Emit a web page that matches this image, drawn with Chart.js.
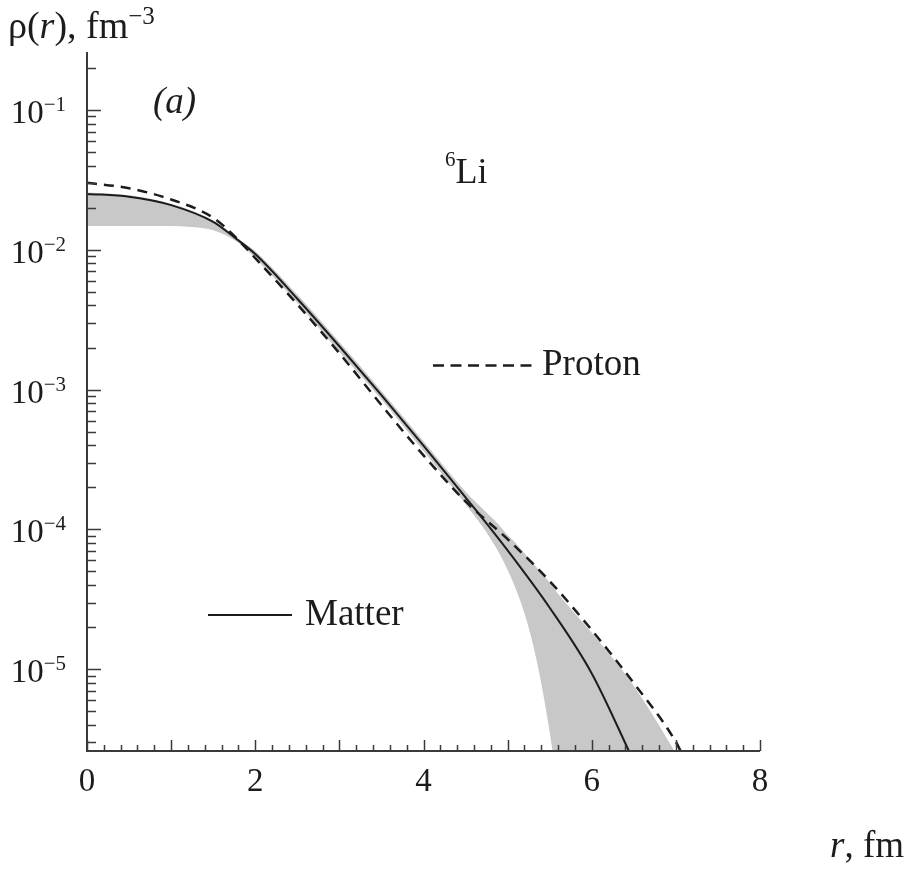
<!DOCTYPE html>
<html>
<head>
<meta charset="utf-8">
<script src="https://cdn.jsdelivr.net/npm/chart.js@4.4.1/dist/chart.umd.min.js"></script>
<style>
  html, body { margin: 0; padding: 0; background: #fff; }
  canvas { display: block; }
</style>
</head>
<body>
<canvas id="densityChart" width="917" height="869"></canvas>
<script>
// 6Li density profiles: r in fm, rho in fm^-3
const rMatter = [0, 0.5, 1.0, 1.5, 1.75, 2.0, 2.5, 3.0, 3.5, 4.0, 4.5, 5.0, 5.5, 6.0, 6.5];
const rhoMatter = [0.02512, 0.02399, 0.02089, 0.01585, 0.01230, 0.009333, 0.004467, 0.002042,
  0.0009120, 0.0003981, 0.0001698, 0.00007079, 0.00002754, 0.000009333, 0.000002188];

const rProton = [0, 0.5, 1.0, 1.5, 1.75, 2.0, 2.5, 3.0, 3.5, 4.0, 4.5, 5.0, 5.5, 6.0, 6.5, 7.0, 7.1];
const rhoProton = [0.03020, 0.02754, 0.02291, 0.01698, 0.01259, 0.008710, 0.004074, 0.001820,
  0.0007762, 0.0003388, 0.0001585, 0.00008511, 0.00004266, 0.00001905, 0.000007943,
  0.00000302, 0.000002291];

// uncertainty corridor of the matter density
const rBand = [0, 0.5, 1.0, 1.2, 1.5, 1.8, 2.0, 2.5, 3.0, 3.5, 4.0, 4.5, 4.7, 4.8, 4.9, 5.0,
  5.1, 5.2, 5.3, 5.4, 5.5, 5.6, 6.0, 6.5, 7.0, 7.2];
const rhoBandLow = [0.01479, 0.01479, 0.01479, 0.01462, 0.01380, 0.01122, 0.008710, 0.004169,
  0.001862, 0.0008511, 0.0003631, 0.0001514, 0.0001047, 0.00008511, 0.00006761, 0.00005129,
  0.00003715, 0.00002512, 0.00001514, 0.000007943, 0.000003548, 0.000001413, 1e-7, 1e-7, 1e-7, 1e-7];
const rhoBandHigh = [0.02570, 0.02455, 0.02138, 0.01950, 0.01622, 0.01202, 0.009772, 0.004786,
  0.002188, 0.0009772, 0.0004266, 0.0001862, 0.0001413, 0.0001230, 0.0001072, 0.00009120,
  0.00007943, 0.00006761, 0.00005754, 0.00004898, 0.00004169, 0.00003467, 0.00001820,
  0.000007586, 0.000002512, 0.000001585];

const yDecades = [-5, -4, -3, -2, -1];
const xTickLabels = [0, 2, 4, 6, 8];

const toPoints = (xs, ys) => xs.map((x, i) => ({ x, y: ys[i] }));

const serif = '"Liberation Serif", "Times New Roman", "DejaVu Serif", serif';
const ink = '#1c1c1c';
const axisInk = '#3a3a3a';
const bandGrey = '#c8c8c8';

// writes a run of [text, font, rise] pieces starting at x, returns the end x
function runs(ctx, parts, x, baseline) {
  for (const [text, font, rise] of parts) {
    ctx.font = font;
    ctx.fillText(text, x, baseline - (rise || 0));
    x += ctx.measureText(text).width;
  }
  return x;
}
function runsWidth(ctx, parts) {
  let w = 0;
  for (const [text, font] of parts) {
    ctx.font = font;
    w += ctx.measureText(text).width;
  }
  return w;
}

// axes with inward ticks, tick labels, annotations and legend
const decorations = {
  id: 'decorations',
  afterDatasetsDraw(chart) {
    const { ctx, chartArea: area, scales: { x, y } } = chart;
    ctx.save();
    ctx.strokeStyle = axisInk;
    ctx.fillStyle = ink;
    ctx.textAlign = 'left';
    ctx.textBaseline = 'alphabetic';

    ctx.lineWidth = 2;
    ctx.beginPath();
    ctx.moveTo(area.left, area.top);
    ctx.lineTo(area.left, area.bottom);
    ctx.lineTo(area.right, area.bottom);
    ctx.stroke();

    ctx.lineWidth = 1.5;
    for (let e = -7; e <= 0; e++) {
      for (let m = 1; m <= 9; m++) {
        const v = m * Math.pow(10, e);
        if (v < y.min || v > y.max) continue;
        const py = Math.round(y.getPixelForValue(v)) + 0.5;
        ctx.beginPath();
        ctx.moveTo(area.left, py);
        ctx.lineTo(area.left + (m === 1 ? 14 : 9), py);
        ctx.stroke();
      }
    }
    for (let i = 0; i <= 40; i++) {
      const px = Math.round(x.getPixelForValue(i * 0.2)) + 0.5;
      ctx.beginPath();
      ctx.moveTo(px, area.bottom);
      ctx.lineTo(px, area.bottom - (i % 5 === 0 ? 11 : 6));
      ctx.stroke();
    }

    const tickFont = '33px ' + serif;
    const supFont = '21px ' + serif;
    for (const d of yDecades) {
      const py = y.getPixelForValue(Math.pow(10, d));
      const parts = [['10', tickFont, 0], ['\u2212' + Math.abs(d), supFont, 12]];
      const w = runsWidth(ctx, parts);
      runs(ctx, parts, area.left - 21 - w, py + 13);
    }
    ctx.font = tickFont;
    ctx.textAlign = 'center';
    for (const v of xTickLabels) {
      ctx.fillText(String(v), x.getPixelForValue(v), area.bottom + 40);
    }
    ctx.textAlign = 'left';

    const textFont = '37px ' + serif;
    const italFont = 'italic 37px ' + serif;
    runs(ctx, [['\u03c1(', '38px ' + serif], ['r', 'italic 38px ' + serif], ['), fm', '38px ' + serif],
      ['\u22123', '25px ' + serif, 14]], 8, 38);
    runs(ctx, [['r', italFont], [', fm', textFont]], 830, 857);
    runs(ctx, [['(', italFont], ['a', italFont], [')', italFont]], 153, 113);
    runs(ctx, [['6', '21px ' + serif, 17], ['Li', '36px ' + serif]], 445, 183);

    // legend
    ctx.strokeStyle = ink;
    ctx.lineWidth = 2.5;
    ctx.setLineDash([11, 6.5]);
    ctx.beginPath();
    ctx.moveTo(433, 365.5);
    ctx.lineTo(533, 365.5);
    ctx.stroke();
    ctx.setLineDash([]);
    ctx.lineWidth = 2;
    ctx.beginPath();
    ctx.moveTo(208, 615);
    ctx.lineTo(292, 615);
    ctx.stroke();
    ctx.font = textFont;
    ctx.fillText('Proton', 542, 375);
    ctx.fillText('Matter', 305, 625);
    ctx.restore();
  }
};

new Chart(document.getElementById('densityChart'), {
  type: 'line',
  data: {
    datasets: [
      {
        label: 'Proton',
        data: toPoints(rProton, rhoProton),
        borderColor: ink,
        borderWidth: 2.5,
        borderDash: [10, 7],
        pointRadius: 0,
        fill: false,
        cubicInterpolationMode: 'monotone'
      },
      {
        label: 'Matter',
        data: toPoints(rMatter, rhoMatter),
        borderColor: ink,
        borderWidth: 2,
        pointRadius: 0,
        fill: false,
        cubicInterpolationMode: 'monotone'
      },
      {
        label: 'Matter upper',
        data: toPoints(rBand, rhoBandHigh),
        borderColor: 'rgba(0,0,0,0)',
        borderWidth: 1,
        backgroundColor: bandGrey,
        pointRadius: 0,
        fill: '+1',
        cubicInterpolationMode: 'monotone'
      },
      {
        label: 'Matter lower',
        data: toPoints(rBand, rhoBandLow),
        borderColor: 'rgba(0,0,0,0)',
        borderWidth: 1,
        pointRadius: 0,
        fill: false,
        cubicInterpolationMode: 'monotone'
      }
    ]
  },
  options: {
    responsive: false,
    animation: false,
    devicePixelRatio: 1,
    layout: { padding: { left: 87, right: 157, top: 52, bottom: 118 } },
    scales: {
      x: { type: 'linear', min: 0, max: 8, display: false },
      y: { type: 'logarithmic', min: 2.6e-6, max: 0.26, display: false }
    },
    plugins: {
      legend: { display: false },
      tooltip: { enabled: false }
    }
  },
  plugins: [decorations]
});
</script>
</body>
</html>
